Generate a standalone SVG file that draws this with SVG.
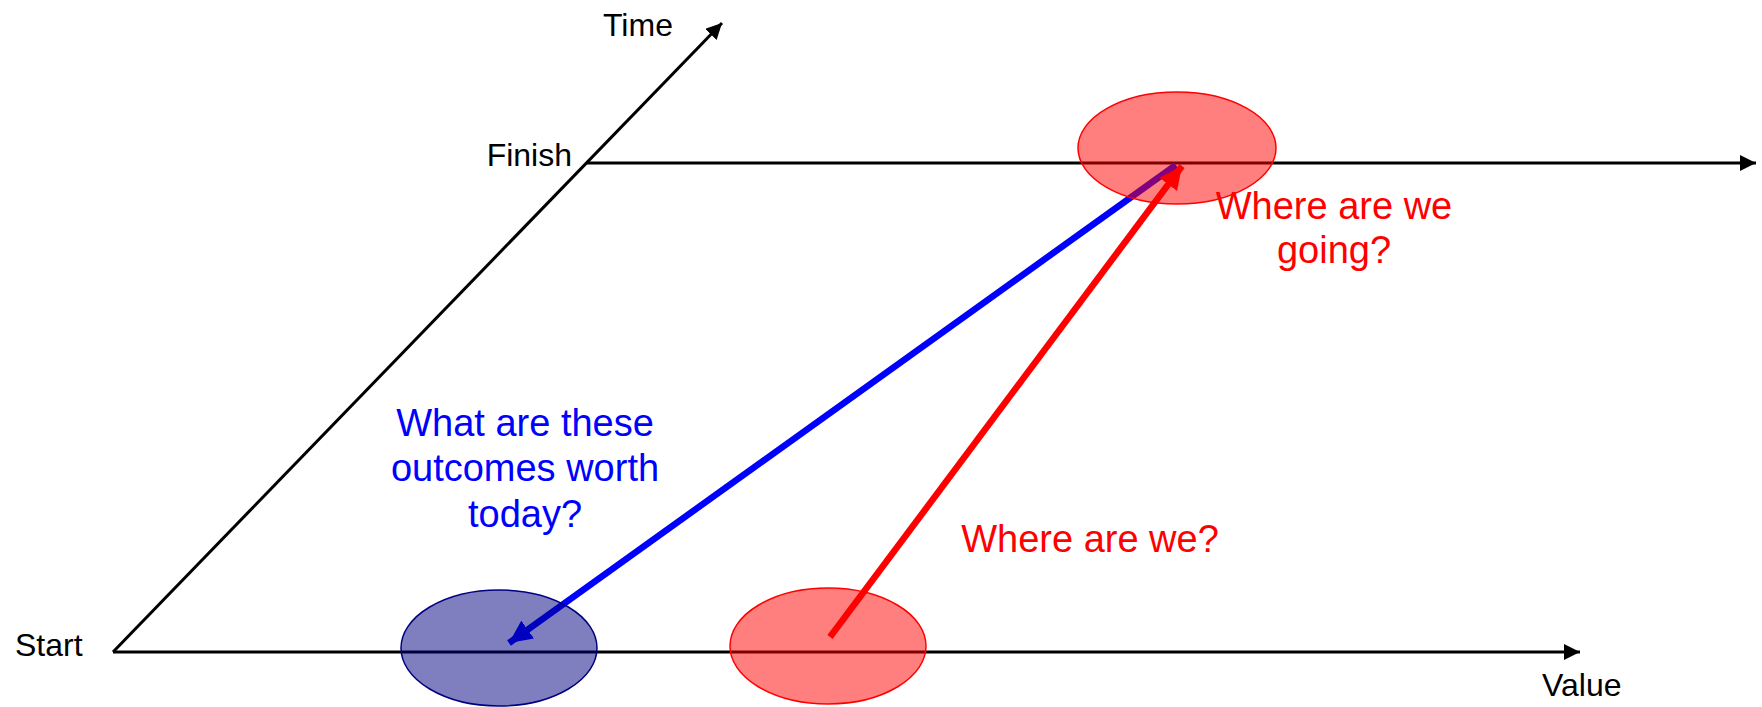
<svg xmlns="http://www.w3.org/2000/svg" width="1762" height="707" viewBox="0 0 1762 707">
  <style>
    .axis { stroke: #000; stroke-width: 3; fill: none; }
    .lbl { font-family: "Liberation Sans", Arial, sans-serif; font-size: 32px; fill: #000; }
    .q { font-family: "Liberation Sans", Arial, sans-serif; font-size: 38px; text-anchor: middle; }
    .red { fill: #FF0000; }
    .blue { fill: #0000FF; }
    .ell-red { fill: #FF0000; fill-opacity: 0.5; stroke: #FF0000; stroke-width: 1.5; }
    .ell-blue { fill: #000080; fill-opacity: 0.5; stroke: #000080; stroke-width: 1.5; }
  </style>
  <defs>
    <marker id="ahBlack" markerUnits="userSpaceOnUse" markerWidth="16" markerHeight="16" refX="16" refY="8" orient="auto">
      <path d="M0,0 L16,8 L0,16 z" fill="#000"/>
    </marker>
    <marker id="ahBlue" markerUnits="userSpaceOnUse" markerWidth="24" markerHeight="22" refX="23" refY="11" orient="auto">
      <path d="M0,0 L23,11 L0,22 z" fill="#0000FF"/>
    </marker>
    <marker id="ahRed" markerUnits="userSpaceOnUse" markerWidth="24" markerHeight="22" refX="23" refY="11" orient="auto">
      <path d="M0,0 L23,11 L0,22 z" fill="#FF0000"/>
    </marker>
  </defs>
  <rect x="0" y="0" width="1762" height="707" fill="#fff"/>

  <g id="connectors">
    <line class="axis" x1="113" y1="652" x2="1580" y2="652" marker-end="url(#ahBlack)"/>
    <line class="axis" x1="113" y1="652" x2="722" y2="23" marker-end="url(#ahBlack)"/>
    <line class="axis" x1="586" y1="163" x2="1756" y2="163" marker-end="url(#ahBlack)"/>
    <line x1="1176" y1="165" x2="509" y2="643" stroke="#0000FF" stroke-width="6.5" marker-end="url(#ahBlue)"/>
    <line x1="830" y1="637" x2="1182" y2="166" stroke="#FF0000" stroke-width="6.5" marker-end="url(#ahRed)"/>
  </g>

  <g id="node-today">
    <ellipse class="ell-blue" cx="499" cy="648" rx="98" ry="58"/>
  </g>
  <g id="node-now">
    <ellipse class="ell-red" cx="828" cy="646" rx="98" ry="58"/>
  </g>
  <g id="node-goal">
    <ellipse class="ell-red" cx="1177" cy="148" rx="99" ry="56"/>
  </g>

  <g id="labels">
    <text class="lbl" x="603" y="36">Time</text>
    <text class="lbl" x="572" y="166" text-anchor="end">Finish</text>
    <text class="lbl" x="15" y="656">Start</text>
    <text class="lbl" x="1542" y="696">Value</text>
  </g>

  <g id="question-worth">
    <text class="q blue" x="525" y="436">What are these</text>
    <text class="q blue" x="525" y="481">outcomes worth</text>
    <text class="q blue" x="525" y="527">today?</text>
  </g>
  <g id="question-going">
    <text class="q red" x="1334" y="219">Where are we</text>
    <text class="q red" x="1334" y="263">going?</text>
  </g>
  <g id="question-now">
    <text class="q red" x="1090" y="552">Where are we?</text>
  </g>
</svg>
